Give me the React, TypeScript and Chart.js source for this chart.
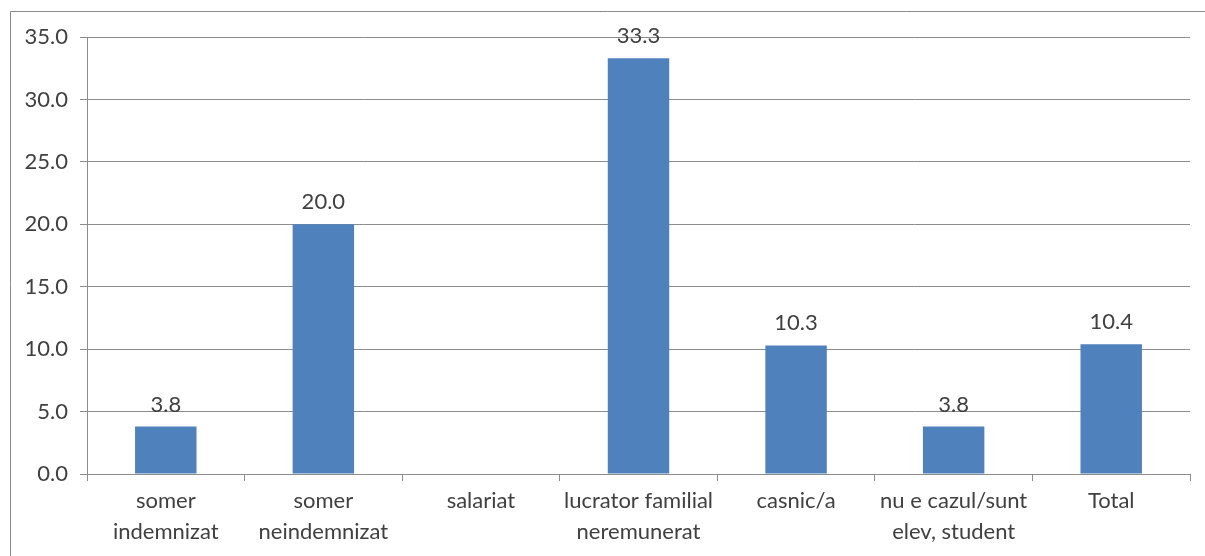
import React, { useEffect, useRef } from "react";
import { Chart, registerables } from "chart.js";

Chart.register(...registerables);

const categories: (string | string[])[] = [
  ["somer", "indemnizat"],
  ["somer", "neindemnizat"],
  "salariat",
  ["lucrator familial", "neremunerat"],
  "casnic/a",
  ["nu e cazul/sunt", "elev, student"],
  "Total",
];
const values: (number | null)[] = [3.8, 20.0, null, 33.3, 10.3, 3.8, 10.4];
const yTicks = [0, 5, 10, 15, 20, 25, 30, 35];

const FONT = "Lato, 'Open Sans', sans-serif";
const TEXT = "#404040";
const GRID = "#8c8c8c";

const frame = {
  id: "frame",
  beforeDraw(chart: any) {
    const ctx = chart.ctx;
    ctx.save();
    ctx.strokeStyle = GRID;
    ctx.lineWidth = 1;
    ctx.beginPath();
    ctx.moveTo(10.5, 556);
    ctx.lineTo(10.5, 11.5);
    ctx.lineTo(1205, 11.5);
    ctx.stroke();
    ctx.restore();
  },
};

const labelsPlugin = {
  id: "valueLabels",
  afterDatasetsDraw(chart: any) {
    const ctx = chart.ctx;
    const meta = chart.getDatasetMeta(0);
    ctx.save();
    ctx.fillStyle = TEXT;
    ctx.font = `22px ${FONT}`;
    ctx.textAlign = "center";
    ctx.textBaseline = "bottom";
    meta.data.forEach((bar: any, i: number) => {
      const v = values[i];
      if (v === null || v === undefined) return;
      ctx.fillText(v.toFixed(1), bar.x, bar.y - 11);
    });
    ctx.restore();
  },
};

export default function App() {
  const ref = useRef<HTMLCanvasElement>(null);
  useEffect(() => {
    if (!ref.current) return;
    const chart = new Chart(ref.current, {
      type: "bar",
      data: {
        labels: categories as any,
        datasets: [
          {
            data: values as any,
            backgroundColor: "#4f81bd",
            categoryPercentage: 1,
            barPercentage: 0.39,
          },
        ],
      },
      options: {
        animation: false,
        responsive: false,
        maintainAspectRatio: false,
        layout: { padding: { left: 0, right: 15, top: 37, bottom: 0 } },
        plugins: { legend: { display: false }, tooltip: { enabled: false } },
        scales: {
          y: {
            min: 0,
            max: 35,
            afterBuildTicks(axis: any) {
              axis.ticks = yTicks.map((v) => ({ value: v }));
            },
            afterFit(axis: any) {
              axis.width = 87;
            },
            ticks: {
              stepSize: 5,
              color: TEXT,
              font: { family: FONT, size: 22 },
              padding: 12,
              callback: (v: any) => Number(v).toFixed(1),
            },
            grid: { color: GRID, tickLength: 7, drawTicks: true },
            border: { color: GRID },
          },
          x: {
            afterFit(axis: any) {
              axis.height = 556 - 474;
            },
            ticks: {
              color: TEXT,
              font: { family: FONT, size: 22, lineHeight: 1.38 },
              padding: 5,
              maxRotation: 0,
              autoSkip: false,
            },
            grid: {
              offset: true,
              drawOnChartArea: false,
              drawTicks: true,
              tickLength: 7,
              color: GRID,
            },
            border: { color: GRID },
          },
        },
      },
      plugins: [frame, labelsPlugin],
    });
    return () => chart.destroy();
  }, []);
  return (
    <div style={{ position: "absolute", left: 0, top: 0, width: 1205, height: 556, background: "#fff" }}>
      <canvas ref={ref} width={1205} height={556} style={{ display: "block" }} />
    </div>
  );
}
